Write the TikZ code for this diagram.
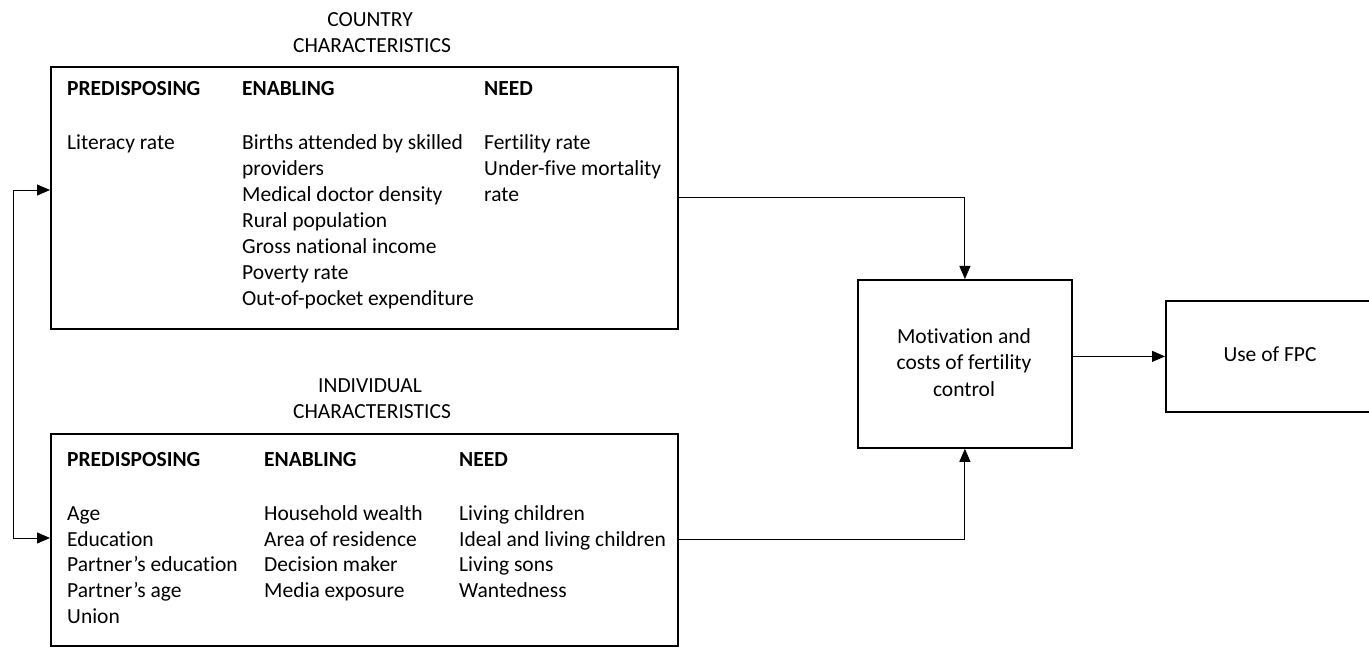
\documentclass[tikz,border=0pt]{standalone}
\usepackage{fontspec}
\setmainfont{Carlito}[Ligatures=NoCommon, RawFeature={-liga;-calt}]
\usetikzlibrary{arrows.meta}
\begin{document}
\begin{tikzpicture}[x=1pt,y=-1pt,
  font=\fontsize{21.5}{26}\selectfont,
  box/.style={draw, line width=1.8pt, inner sep=0, anchor=north west},
  conn/.style={line width=0.9pt, -{Triangle[length=13pt,width=11pt]}},
  txt/.style={anchor=base west, inner sep=0},
  ctxt/.style={anchor=base, inner sep=0},
  hd/.style={txt, font=\fontsize{21.5}{26}\selectfont\bfseries}]
\useasboundingbox[fill=white] (0,0) rectangle (1369,652);

% boxes
\node[box, minimum width=627pt, minimum height=262pt] (country) at (50,66) {};
\node[box, minimum width=627pt, minimum height=212pt] (indiv) at (50,433) {};
\node[box, minimum width=214pt, minimum height=168pt] (motiv) at (857,279) {};
\node[box, minimum width=204pt, minimum height=111pt] (use) at (1165,300) {};

% titles
\node[ctxt] (t1a) at (370,27) {COUNTRY};
\node[ctxt] (t1b) at (372,53) {CHARACTERISTICS};
\node[ctxt] (t2a) at (370,392) {INDIVIDUAL};
\node[ctxt] (t2b) at (372,418) {CHARACTERISTICS};

% country box text
\node[hd] (cp) at (67,96) {PREDISPOSING};
\node[hd] (ce) at (242,96) {ENABLING};
\node[hd] (cn) at (484,96) {NEED};
\node[txt] (cp1) at (67,150) {Literacy rate};
\node[txt] (ce1) at (242,150) {Births attended by skilled};
\node[txt] (ce2) at (242,176) {providers};
\node[txt] (ce3) at (242,202) {Medical doctor density};
\node[txt] (ce4) at (242,228) {Rural population};
\node[txt] (ce5) at (242,254) {Gross national income};
\node[txt] (ce6) at (242,280) {Poverty rate};
\node[txt] (ce7) at (242,306) {Out-of-pocket expenditure};
\node[txt] (cn1) at (484,150) {Fertility rate};
\node[txt] (cn2) at (484,176) {Under-five mortality};
\node[txt] (cn3) at (484,202) {rate};

% individual box text
\node[hd] (ip) at (67,466) {PREDISPOSING};
\node[hd] (ie) at (264,466) {ENABLING};
\node[hd] (in) at (459,466) {NEED};
\node[txt] (ip1) at (67,520) {Age};
\node[txt] (ip2) at (67,546) {Education};
\node[txt] (ip3) at (67,571) {Partner’s education};
\node[txt] (ip4) at (67,597) {Partner’s age};
\node[txt] (ip5) at (67,623) {Union};
\node[txt] (ie1) at (264,520) {Household wealth};
\node[txt] (ie2) at (264,546) {Area of residence};
\node[txt] (ie3) at (264,571) {Decision maker};
\node[txt] (ie4) at (264,597) {Media exposure};
\node[txt] (in1) at (459,520) {Living children};
\node[txt] (in2) at (459,546) {Ideal and living children};
\node[txt] (in3) at (459,571) {Living sons};
\node[txt] (in4) at (459,597) {Wantedness};

% right boxes text
\node[ctxt] (m1) at (964,344) {Motivation and};
\node[ctxt] (m2) at (964,370) {costs of fertility};
\node[ctxt] (m3) at (964,396) {control};
\node[ctxt] (u1) at (1270,362) {Use of FPC};

% connectors
\coordinate (fbtop) at (50,190);
\coordinate (fbbot) at (50,538);
\coordinate (fbx) at (13,0);
\draw[conn, {Triangle[length=13pt,width=11pt]}-{Triangle[length=13pt,width=11pt]}]
  (fbtop) -| (fbx |- fbbot) -- (fbbot);
\draw[conn] (country.east) -| (motiv.north);
\draw[conn] (indiv.east) -| (motiv.south);
\draw[conn] (motiv.east |- use.west) -- (use.west);
\end{tikzpicture}
\end{document}
